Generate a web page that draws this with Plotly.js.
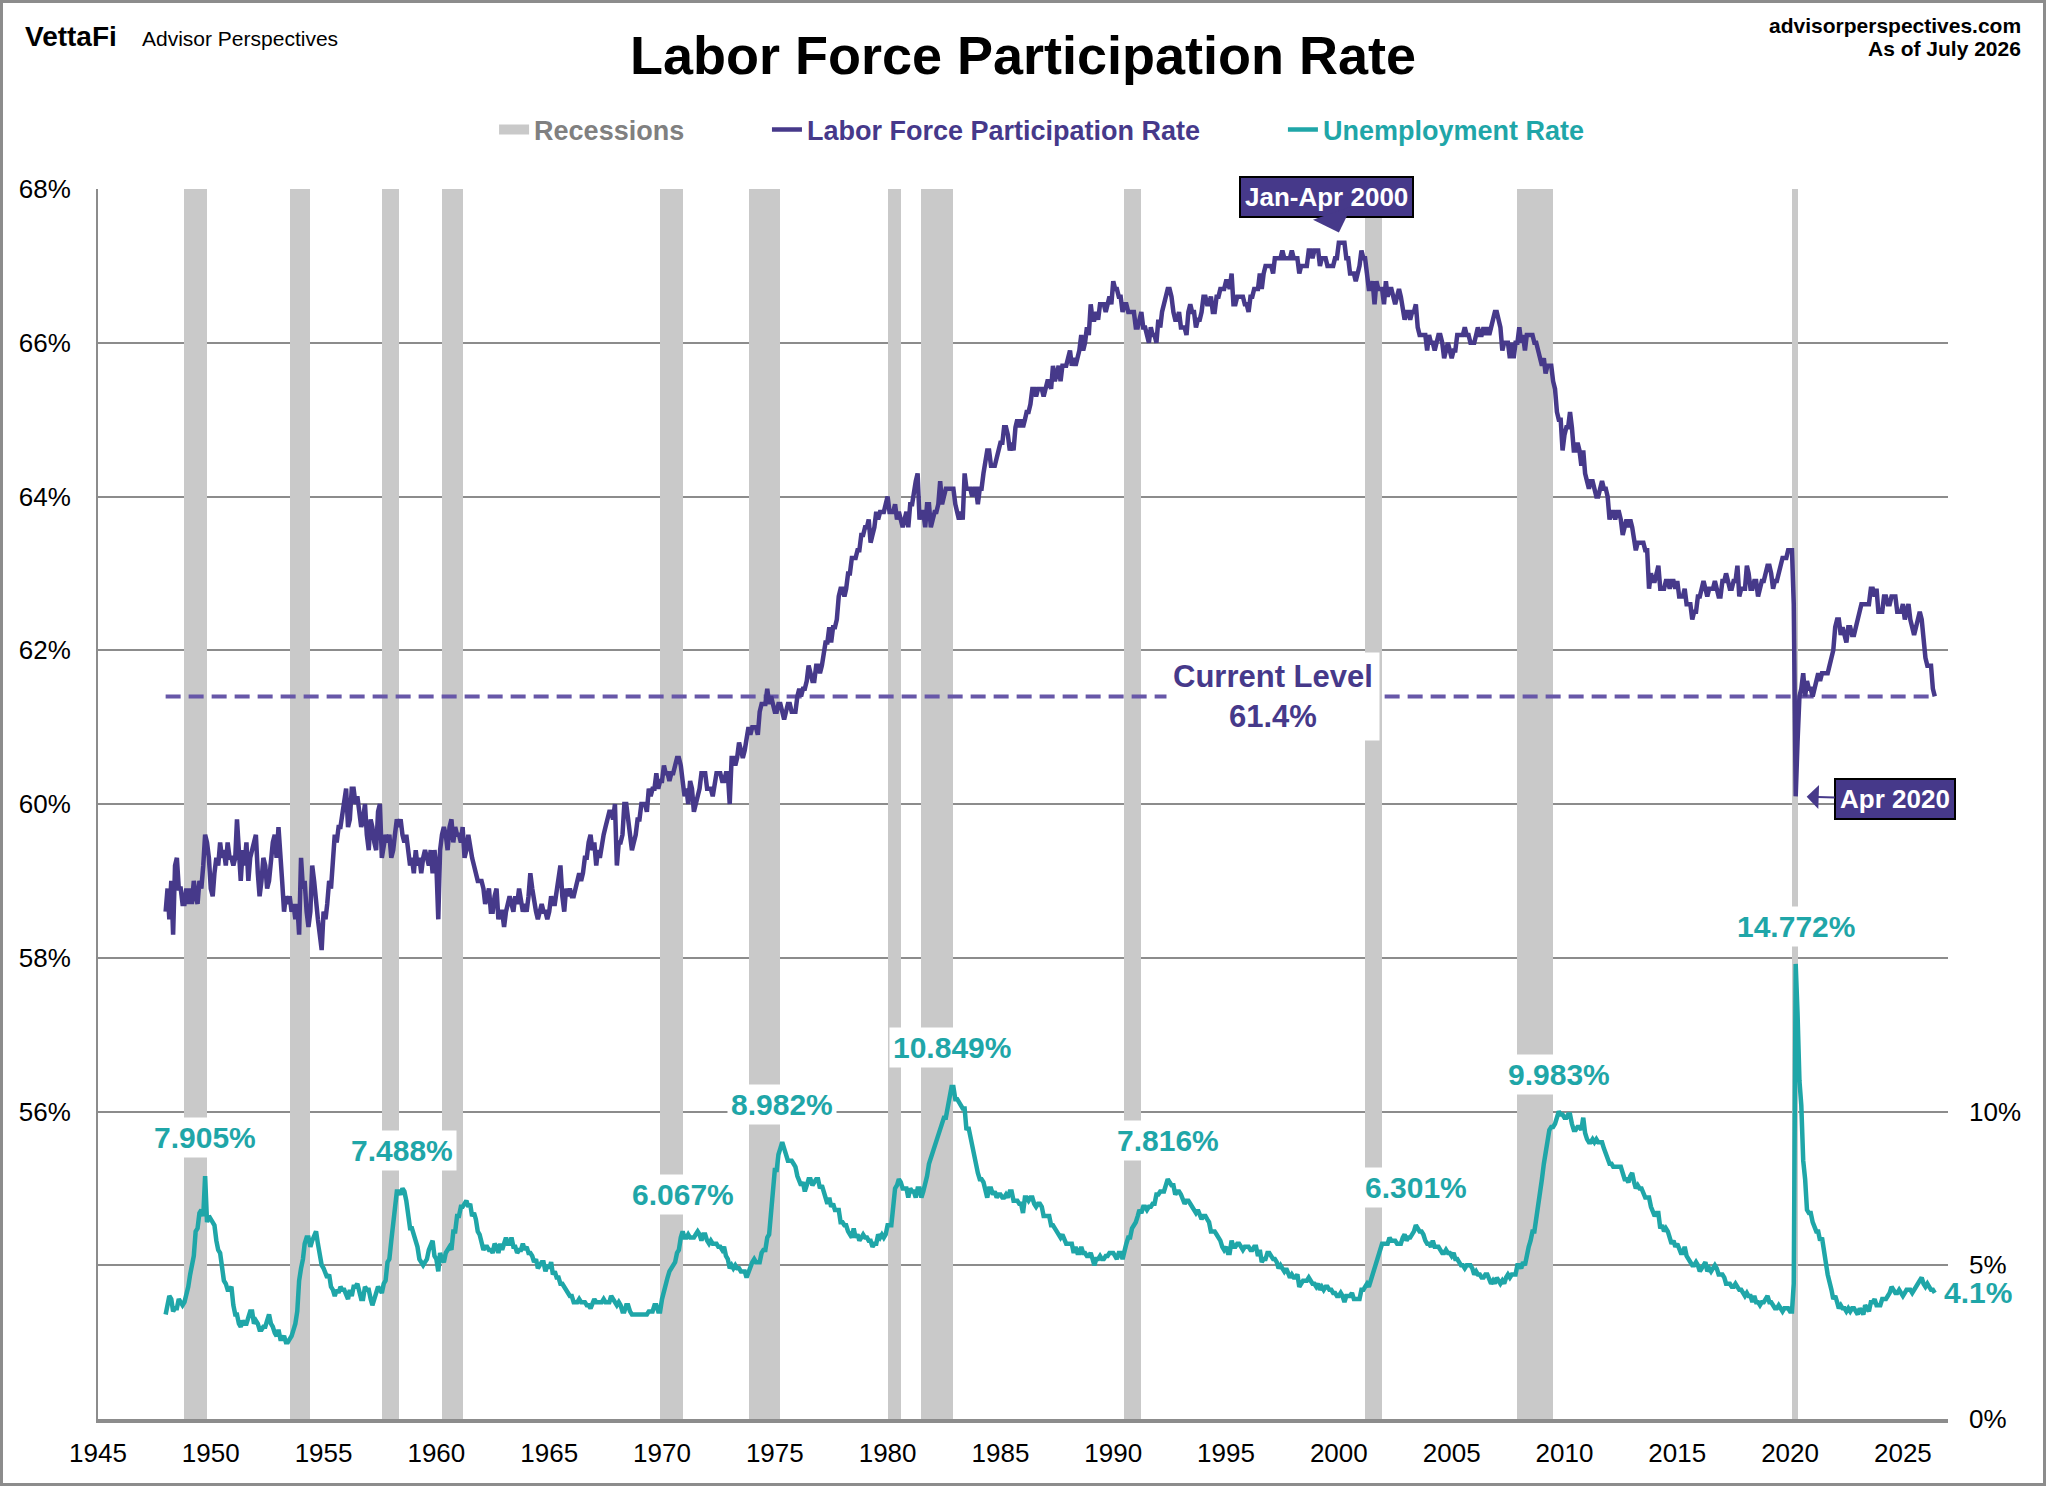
<!DOCTYPE html>
<html>
<head>
<meta charset="utf-8">
<script src="https://cdn.plot.ly/plotly-3.0.1.min.js"></script>
<style>
    body { margin: 0; background: #fff; }
    #grafico { width: 2046px; height: 1486px; box-sizing: border-box; border: 3px solid #8c8c8c; }
</style>
</head>
<body>
<div id="grafico"></div>
<script>
// monthly series, first value is January of startYear
var startYear = 1948;

var lfprValues = [
    58.6, 58.9, 58.5, 59.0, 58.3, 59.2, 59.3, 58.9, 58.9, 58.7, 58.7, 58.9,
    58.7, 58.9, 58.7, 59.0, 58.8, 58.7, 59.0, 58.9, 59.2, 59.6, 59.5, 59.3,
    58.9, 58.8, 59.1, 59.3, 59.2, 59.5, 59.3, 59.4, 59.2, 59.5, 59.3, 59.3,
    59.2, 59.3, 59.8, 59.3, 59.0, 59.4, 59.2, 59.5, 59.0, 59.3, 59.4, 59.5,
    59.6, 59.1, 58.8, 59.0, 59.3, 59.2, 58.9, 59.0, 59.3, 59.5, 59.6, 59.3,
    59.7, 59.4, 59.0, 58.6, 58.8, 58.7, 58.8, 58.6, 58.7, 58.5, 58.7, 58.3,
    59.3, 58.9, 59.0, 58.6, 58.4, 58.6, 59.2, 59.0, 58.7, 58.5, 58.3, 58.1,
    58.6, 58.5, 58.7, 59.0, 58.9, 59.2, 59.6, 59.5, 59.7, 59.7, 59.9, 60.1,
    60.2, 59.7, 59.8, 60.2, 60.2, 60.0, 60.1, 59.9, 59.7, 59.8, 60.0, 59.6,
    59.4, 59.8, 59.7, 59.5, 59.4, 59.9, 60.0, 59.3, 59.5, 59.6, 59.5, 59.6,
    59.3, 59.4, 59.6, 59.8, 59.7, 59.8, 59.6, 59.5, 59.6, 59.4, 59.2, 59.3,
    59.1, 59.4, 59.2, 59.3, 59.1, 59.3, 59.4, 59.3, 59.2, 59.4, 59.1, 59.4,
    59.2, 58.5, 59.4, 59.6, 59.7, 59.6, 59.4, 59.7, 59.8, 59.5, 59.7, 59.6,
    59.6, 59.5, 59.7, 59.3, 59.4, 59.6, 59.4, 59.3, 59.2, 59.1, 59.0, 59.0,
    59.0, 58.9, 58.7, 58.8, 58.9, 58.6, 58.6, 58.8, 58.9, 58.5, 58.6, 58.6,
    58.4, 58.6, 58.7, 58.8, 58.7, 58.6, 58.8, 58.7, 58.9, 58.7, 58.6, 58.7,
    58.6, 58.8, 59.1, 58.9, 58.7, 58.6, 58.5, 58.6, 58.7, 58.6, 58.6, 58.5,
    58.6, 58.8, 58.7, 58.7, 58.9, 59.0, 59.2, 58.8, 58.6, 58.9, 58.8, 58.9,
    58.8, 58.8, 58.9, 59.0, 59.1, 59.0, 59.1, 59.3, 59.3, 59.5, 59.6, 59.4,
    59.5, 59.2, 59.4, 59.3, 59.5, 59.6, 59.7, 59.8, 59.9, 59.9, 59.8, 60.0,
    59.2, 59.5, 59.5, 59.6, 60.0, 60.0, 59.8, 59.6, 59.4, 59.5, 59.6, 59.8,
    59.8, 60.0, 60.0, 60.0, 59.9, 60.2, 60.1, 60.2, 60.2, 60.4, 60.2, 60.3,
    60.3, 60.5, 60.4, 60.4, 60.3, 60.4, 60.4, 60.5, 60.6, 60.6, 60.5, 60.3,
    60.1, 60.2, 60.0, 60.3, 60.2, 59.9, 60.0, 60.1, 60.2, 60.4, 60.4, 60.4,
    60.2, 60.2, 60.2, 60.1, 60.3, 60.4, 60.4, 60.4, 60.3, 60.3, 60.4, 60.4,
    60.0, 60.6, 60.6, 60.5, 60.6, 60.8, 60.7, 60.6, 60.7, 60.9, 61.0, 60.9,
    61.0, 61.0, 61.0, 60.9, 61.2, 61.3, 61.3, 61.3, 61.5, 61.3, 61.4, 61.3,
    61.2, 61.2, 61.3, 61.3, 61.2, 61.1, 61.2, 61.3, 61.3, 61.2, 61.2, 61.2,
    61.4, 61.5, 61.4, 61.5, 61.5, 61.6, 61.8, 61.7, 61.6, 61.6, 61.8, 61.8,
    61.7, 61.8, 62.0, 62.1, 62.1, 62.3, 62.1, 62.3, 62.3, 62.4, 62.7, 62.8,
    62.8, 62.7, 62.8, 63.0, 63.0, 63.2, 63.2, 63.2, 63.3, 63.3, 63.5, 63.5,
    63.6, 63.6, 63.7, 63.4, 63.5, 63.6, 63.8, 63.7, 63.8, 63.8, 63.8, 63.9,
    64.0, 63.8, 63.8, 63.8, 63.9, 63.7, 63.8, 63.7, 63.6, 63.7, 63.8, 63.6,
    63.9, 63.9, 64.1, 64.2, 64.3, 63.7, 63.8, 63.8, 63.6, 63.9, 63.9, 63.6,
    63.7, 63.8, 63.8, 63.9, 64.2, 63.9, 64.0, 64.1, 64.1, 64.1, 64.1, 64.1,
    63.9, 63.8, 63.7, 63.8, 63.7, 64.3, 64.1, 64.1, 64.1, 64.0, 64.1, 64.1,
    63.9, 64.1, 64.1, 64.3, 64.5, 64.6, 64.6, 64.4, 64.4, 64.4, 64.5, 64.6,
    64.7, 64.7, 64.9, 64.9, 64.8, 64.6, 64.7, 64.6, 64.9, 65.0, 64.9, 65.0,
    64.9, 65.0, 65.1, 65.1, 65.2, 65.4, 65.4, 65.3, 65.4, 65.4, 65.4, 65.3,
    65.4, 65.5, 65.5, 65.4, 65.7, 65.5, 65.6, 65.7, 65.5, 65.7, 65.7, 65.7,
    65.8, 65.9, 65.7, 65.8, 65.7, 65.8, 65.9, 66.1, 65.9, 66.0, 66.2, 66.1,
    66.5, 66.3, 66.3, 66.4, 66.3, 66.5, 66.5, 66.5, 66.4, 66.5, 66.6, 66.5,
    66.8, 66.7, 66.7, 66.6, 66.6, 66.4, 66.5, 66.5, 66.4, 66.4, 66.4, 66.4,
    66.2, 66.2, 66.3, 66.4, 66.2, 66.2, 66.1, 66.0, 66.2, 66.1, 66.1, 66.0,
    66.3, 66.2, 66.4, 66.5, 66.6, 66.7, 66.7, 66.6, 66.4, 66.3, 66.3, 66.4,
    66.2, 66.2, 66.2, 66.1, 66.4, 66.5, 66.4, 66.4, 66.2, 66.3, 66.3, 66.4,
    66.6, 66.6, 66.5, 66.5, 66.6, 66.4, 66.4, 66.6, 66.6, 66.7, 66.7, 66.7,
    66.8, 66.8, 66.7, 66.9, 66.5, 66.5, 66.6, 66.6, 66.6, 66.6, 66.5, 66.5,
    66.4, 66.6, 66.6, 66.7, 66.7, 66.7, 66.9, 66.7, 66.9, 67.0, 67.0, 67.0,
    67.0, 66.9, 67.1, 67.1, 67.1, 67.1, 67.2, 67.1, 67.1, 67.1, 67.1, 67.2,
    67.1, 67.1, 67.1, 66.9, 67.0, 67.0, 67.0, 67.0, 67.2, 67.2, 67.1, 67.2,
    67.2, 67.2, 67.0, 67.1, 67.1, 67.1, 67.0, 67.0, 67.0, 67.0, 67.1, 67.1,
    67.3, 67.3, 67.3, 67.3, 67.1, 67.1, 66.9, 66.9, 66.9, 66.8, 66.9, 67.0,
    67.2, 67.1, 67.1, 66.9, 66.7, 66.7, 66.8, 66.5, 66.8, 66.7, 66.7, 66.7,
    66.5, 66.8, 66.6, 66.7, 66.7, 66.6, 66.5, 66.6, 66.7, 66.6, 66.4, 66.3,
    66.4, 66.4, 66.3, 66.4, 66.4, 66.5, 66.2, 66.1, 66.1, 66.1, 66.1, 65.9,
    66.1, 66.0, 66.0, 65.9, 66.0, 66.1, 66.1, 66.0, 65.8, 65.9, 66.0, 65.9,
    65.8, 65.9, 65.9, 66.1, 66.1, 66.1, 66.1, 66.2, 66.1, 66.1, 66.0, 66.0,
    66.0, 66.1, 66.2, 66.1, 66.1, 66.2, 66.1, 66.2, 66.1, 66.2, 66.3, 66.4,
    66.4, 66.3, 66.2, 65.9, 66.0, 66.0, 66.0, 65.8, 66.0, 65.8, 66.0, 66.0,
    66.2, 66.0, 66.1, 65.9, 66.1, 66.1, 66.1, 66.1, 66.0, 66.0, 65.9, 65.8,
    65.7, 65.8, 65.6, 65.7, 65.7, 65.7, 65.5, 65.4, 65.1, 65.0, 65.0, 64.6,
    64.8, 64.9, 64.9, 65.1, 64.9, 64.6, 64.6, 64.7, 64.6, 64.4, 64.6, 64.3,
    64.2, 64.1, 64.2, 64.2, 64.1, 64.0, 64.0, 64.1, 64.2, 64.1, 64.1, 64.0,
    63.7, 63.8, 63.8, 63.7, 63.8, 63.8, 63.7, 63.5, 63.6, 63.7, 63.6, 63.7,
    63.6, 63.4, 63.3, 63.4, 63.4, 63.4, 63.4, 63.3, 63.3, 62.8, 63.0, 62.9,
    62.9, 63.0, 63.1, 62.8, 62.8, 62.8, 62.9, 62.9, 62.8, 62.9, 62.9, 62.8,
    62.9, 62.7, 62.7, 62.7, 62.8, 62.6, 62.6, 62.6, 62.4, 62.5, 62.5, 62.7,
    62.7, 62.8, 62.9, 62.8, 62.7, 62.8, 62.8, 62.8, 62.9, 62.8, 62.7, 62.7,
    62.9, 62.9, 63.0, 62.9, 62.8, 62.8, 62.9, 62.9, 63.1, 62.7, 62.8, 62.8,
    62.8, 63.1, 63.0, 62.8, 62.8, 62.9, 62.9, 62.7, 62.8, 62.9, 62.9, 63.0,
    63.1, 63.1, 63.0, 62.8, 62.9, 62.9, 63.0, 63.1, 63.2, 63.2, 63.2, 63.3,
    63.3, 63.3, 62.6, 60.1, 60.8, 61.4, 61.5, 61.7, 61.4, 61.6, 61.5, 61.5,
    61.4, 61.5, 61.6, 61.7, 61.6, 61.7, 61.7, 61.7, 61.7, 61.8, 61.9, 62.0,
    62.3, 62.4, 62.4, 62.2, 62.3, 62.2, 62.1, 62.3, 62.3, 62.2, 62.2, 62.3,
    62.4, 62.5, 62.6, 62.6, 62.6, 62.6, 62.6, 62.8, 62.8, 62.7, 62.8, 62.5,
    62.5, 62.5, 62.7, 62.7, 62.6, 62.6, 62.7, 62.7, 62.7, 62.5, 62.5, 62.5,
    62.6, 62.4, 62.5, 62.6, 62.4, 62.3, 62.2, 62.3, 62.4, 62.5, 62.4, 62.1,
    61.9, 61.8, 61.8, 61.8, 61.5, 61.4
];

var unrateValues = [
    3.4, 3.8, 4.0, 3.9, 3.5, 3.6, 3.6, 3.9, 3.8, 3.7, 3.8, 4.0,
    4.3, 4.7, 5.0, 5.3, 6.1, 6.2, 6.7, 6.8, 6.6, 7.9, 6.4, 6.6,
    6.5, 6.4, 6.3, 5.8, 5.5, 5.4, 5.0, 4.5, 4.4, 4.2, 4.2, 4.3,
    3.7, 3.4, 3.4, 3.1, 3.0, 3.2, 3.1, 3.1, 3.3, 3.5, 3.5, 3.1,
    3.2, 3.1, 2.9, 2.9, 3.0, 3.0, 3.2, 3.4, 3.1, 3.0, 2.8, 2.7,
    2.9, 2.6, 2.6, 2.7, 2.5, 2.5, 2.6, 2.7, 2.9, 3.1, 3.5, 4.5,
    4.9, 5.2, 5.7, 5.9, 5.9, 5.6, 5.8, 6.0, 6.1, 5.7, 5.3, 5.0,
    4.9, 4.7, 4.6, 4.7, 4.3, 4.2, 4.0, 4.2, 4.1, 4.3, 4.2, 4.2,
    4.0, 3.9, 4.2, 4.0, 4.3, 4.3, 4.4, 4.1, 3.9, 3.9, 4.3, 4.2,
    4.2, 3.9, 3.7, 3.9, 4.1, 4.3, 4.2, 4.1, 4.4, 4.5, 5.1, 5.2,
    5.8, 6.4, 6.7, 7.4, 7.4, 7.3, 7.5, 7.4, 7.1, 6.7, 6.2, 6.2,
    6.0, 5.9, 5.6, 5.2, 5.1, 5.0, 5.1, 5.2, 5.5, 5.7, 5.8, 5.3,
    5.2, 4.8, 5.4, 5.2, 5.1, 5.4, 5.5, 5.6, 5.5, 6.1, 6.1, 6.6,
    6.6, 6.9, 6.9, 7.0, 7.1, 6.9, 7.0, 6.6, 6.7, 6.5, 6.1, 6.0,
    5.8, 5.5, 5.6, 5.6, 5.5, 5.5, 5.4, 5.7, 5.6, 5.4, 5.7, 5.5,
    5.7, 5.9, 5.7, 5.7, 5.9, 5.6, 5.6, 5.4, 5.5, 5.5, 5.7, 5.5,
    5.6, 5.4, 5.4, 5.3, 5.1, 5.2, 4.9, 5.0, 5.1, 5.1, 4.8, 5.0,
    4.9, 5.1, 4.7, 4.8, 4.6, 4.6, 4.4, 4.4, 4.3, 4.2, 4.1, 4.0,
    4.0, 3.8, 3.8, 3.8, 3.9, 3.8, 3.8, 3.8, 3.7, 3.7, 3.6, 3.8,
    3.9, 3.8, 3.8, 3.8, 3.8, 3.9, 3.8, 3.8, 3.8, 4.0, 3.9, 3.8,
    3.7, 3.8, 3.7, 3.5, 3.5, 3.7, 3.7, 3.5, 3.4, 3.4, 3.4, 3.4,
    3.4, 3.4, 3.4, 3.4, 3.4, 3.5, 3.5, 3.5, 3.7, 3.7, 3.5, 3.5,
    3.9, 4.2, 4.4, 4.6, 4.8, 4.9, 5.0, 5.1, 5.4, 5.5, 5.9, 6.1,
    5.9, 5.9, 6.0, 5.9, 5.9, 5.9, 6.0, 6.1, 6.0, 5.8, 6.0, 6.0,
    5.8, 5.7, 5.8, 5.7, 5.7, 5.7, 5.6, 5.6, 5.5, 5.6, 5.3, 5.2,
    4.9, 5.0, 4.9, 5.0, 4.9, 4.9, 4.8, 4.8, 4.8, 4.6, 4.8, 4.9,
    5.1, 5.2, 5.1, 5.1, 5.1, 5.4, 5.5, 5.5, 5.9, 6.0, 6.6, 7.2,
    8.1, 8.1, 8.6, 8.8, 9.0, 8.8, 8.6, 8.4, 8.4, 8.4, 8.3, 8.2,
    7.9, 7.7, 7.6, 7.7, 7.4, 7.6, 7.8, 7.8, 7.6, 7.7, 7.8, 7.8,
    7.5, 7.6, 7.4, 7.2, 7.0, 7.2, 6.9, 7.0, 6.8, 6.8, 6.8, 6.4,
    6.4, 6.3, 6.3, 6.1, 6.0, 5.9, 6.2, 5.9, 6.0, 5.8, 5.9, 6.0,
    5.9, 5.9, 5.8, 5.8, 5.6, 5.7, 5.7, 6.0, 5.9, 6.0, 5.9, 6.0,
    6.3, 6.3, 6.3, 6.9, 7.5, 7.6, 7.8, 7.7, 7.5, 7.5, 7.5, 7.2,
    7.5, 7.4, 7.4, 7.2, 7.5, 7.5, 7.2, 7.4, 7.6, 7.9, 8.3, 8.5,
    8.6, 8.9, 9.0, 9.3, 9.4, 9.6, 9.8, 9.8, 10.1, 10.4, 10.8, 10.8,
    10.4, 10.4, 10.3, 10.2, 10.1, 10.1, 9.4, 9.5, 9.2, 8.8, 8.5, 8.3,
    8.0, 7.8, 7.8, 7.7, 7.4, 7.2, 7.5, 7.5, 7.3, 7.4, 7.2, 7.3,
    7.3, 7.2, 7.2, 7.3, 7.2, 7.4, 7.4, 7.1, 7.1, 7.1, 7.0, 7.0,
    6.7, 7.2, 7.2, 7.1, 7.2, 7.2, 7.0, 6.9, 7.0, 7.0, 6.9, 6.6,
    6.6, 6.6, 6.6, 6.3, 6.3, 6.2, 6.1, 6.0, 5.9, 6.0, 5.8, 5.7,
    5.7, 5.7, 5.7, 5.4, 5.6, 5.4, 5.4, 5.6, 5.4, 5.4, 5.3, 5.3,
    5.4, 5.2, 5.0, 5.2, 5.2, 5.3, 5.2, 5.2, 5.3, 5.3, 5.4, 5.4,
    5.4, 5.3, 5.2, 5.4, 5.4, 5.2, 5.5, 5.7, 5.9, 5.9, 6.2, 6.3,
    6.4, 6.6, 6.8, 6.7, 6.9, 6.9, 6.8, 6.9, 6.9, 7.0, 7.0, 7.3,
    7.3, 7.4, 7.4, 7.4, 7.6, 7.8, 7.7, 7.6, 7.6, 7.3, 7.4, 7.4,
    7.3, 7.1, 7.0, 7.1, 7.1, 7.0, 6.9, 6.8, 6.7, 6.8, 6.6, 6.5,
    6.6, 6.6, 6.5, 6.4, 6.1, 6.1, 6.1, 6.0, 5.9, 5.8, 5.6, 5.5,
    5.6, 5.4, 5.4, 5.8, 5.6, 5.6, 5.7, 5.7, 5.6, 5.5, 5.6, 5.6,
    5.6, 5.5, 5.5, 5.6, 5.6, 5.3, 5.5, 5.1, 5.2, 5.2, 5.4, 5.4,
    5.3, 5.2, 5.2, 5.1, 4.9, 5.0, 4.9, 4.8, 4.9, 4.7, 4.6, 4.7,
    4.6, 4.6, 4.7, 4.3, 4.4, 4.5, 4.5, 4.5, 4.6, 4.5, 4.4, 4.4,
    4.3, 4.4, 4.2, 4.3, 4.2, 4.3, 4.3, 4.2, 4.2, 4.1, 4.1, 4.0,
    4.0, 4.1, 4.0, 3.8, 4.0, 4.0, 4.0, 4.1, 3.9, 3.9, 3.9, 3.9,
    4.2, 4.2, 4.3, 4.4, 4.3, 4.5, 4.6, 4.9, 5.0, 5.3, 5.5, 5.7,
    5.7, 5.7, 5.7, 5.9, 5.8, 5.8, 5.8, 5.7, 5.7, 5.7, 5.9, 6.0,
    5.8, 5.9, 5.9, 6.0, 6.1, 6.3, 6.2, 6.1, 6.1, 6.0, 5.8, 5.7,
    5.7, 5.6, 5.8, 5.6, 5.6, 5.6, 5.5, 5.4, 5.4, 5.5, 5.4, 5.4,
    5.3, 5.4, 5.2, 5.2, 5.1, 5.0, 5.0, 4.9, 5.0, 5.0, 5.0, 4.9,
    4.7, 4.8, 4.7, 4.7, 4.6, 4.6, 4.7, 4.7, 4.5, 4.4, 4.5, 4.4,
    4.6, 4.5, 4.4, 4.5, 4.4, 4.6, 4.7, 4.6, 4.7, 4.7, 4.7, 5.0,
    5.0, 4.9, 5.1, 5.0, 5.4, 5.6, 5.8, 6.1, 6.1, 6.5, 6.8, 7.3,
    7.8, 8.3, 8.7, 9.0, 9.4, 9.5, 9.5, 9.6, 9.8, 10.0, 9.9, 9.9,
    9.8, 9.8, 9.9, 9.9, 9.6, 9.4, 9.4, 9.5, 9.5, 9.4, 9.8, 9.3,
    9.1, 9.0, 9.0, 9.1, 9.0, 9.1, 9.0, 9.0, 9.0, 8.8, 8.6, 8.5,
    8.3, 8.3, 8.2, 8.2, 8.2, 8.2, 8.2, 8.0, 7.8, 7.8, 7.7, 7.9,
    8.0, 7.7, 7.5, 7.6, 7.5, 7.5, 7.3, 7.2, 7.2, 7.2, 6.9, 6.7,
    6.6, 6.7, 6.7, 6.2, 6.3, 6.1, 6.2, 6.1, 5.9, 5.7, 5.8, 5.6,
    5.7, 5.5, 5.4, 5.4, 5.6, 5.3, 5.2, 5.1, 5.0, 5.0, 5.1, 5.0,
    4.8, 4.9, 5.0, 5.1, 4.8, 4.9, 4.8, 4.9, 5.0, 4.9, 4.7, 4.7,
    4.7, 4.6, 4.4, 4.4, 4.4, 4.3, 4.3, 4.4, 4.3, 4.2, 4.2, 4.1,
    4.0, 4.1, 4.0, 4.0, 3.8, 4.0, 3.8, 3.8, 3.7, 3.8, 3.8, 3.9,
    4.0, 3.8, 3.8, 3.7, 3.6, 3.6, 3.7, 3.6, 3.5, 3.6, 3.6, 3.6,
    3.5, 3.5, 4.4, 14.8, 13.2, 11.0, 10.2, 8.4, 7.8, 6.8, 6.7, 6.7,
    6.4, 6.2, 6.1, 6.1, 5.8, 5.9, 5.4, 5.1, 4.7, 4.5, 4.2, 3.9,
    4.0, 3.8, 3.6, 3.7, 3.6, 3.6, 3.5, 3.6, 3.5, 3.6, 3.6, 3.5,
    3.4, 3.6, 3.5, 3.4, 3.7, 3.6, 3.5, 3.8, 3.8, 3.9, 3.7, 3.7,
    3.7, 3.9, 3.9, 3.9, 4.0, 4.1, 4.3, 4.2, 4.1, 4.1, 4.2, 4.1,
    4.0, 4.1, 4.2, 4.2, 4.2, 4.1, 4.2, 4.3, 4.4, 4.5, 4.6, 4.4,
    4.3, 4.4, 4.3, 4.2, 4.2, 4.1
];

// NBER recessions: first month of the downturn, first month after the trough
var recessionStarts = ['1948-11-01', '1953-07-01', '1957-08-01', '1960-04-01', '1969-12-01', '1973-11-01',
    '1980-01-01', '1981-07-01', '1990-07-01', '2001-03-01', '2007-12-01', '2020-02-01'];
var recessionEnds = ['1949-11-01', '1954-06-01', '1958-05-01', '1961-03-01', '1970-12-01', '1975-04-01',
    '1980-08-01', '1982-12-01', '1991-04-01', '2001-12-01', '2009-07-01', '2020-05-01'];

// unemployment peaks labelled on the chart
var peakDates = ['1949-10-01', '1958-07-01', '1970-12-01', '1975-05-01', '1982-11-01',
    '1992-06-01', '2003-06-01', '2009-10-01', '2020-04-01'];
var peakValues = [7.905, 7.488, 6.067, 8.982, 10.849, 7.816, 6.301, 9.983, 14.772];

var calloutDates = ['2000-03-01', '2020-04-01'];
var calloutTexts = ['Jan-Apr 2000', 'Apr 2020'];

var leftTicks = [56, 58, 60, 62, 64, 66, 68];
var rightTicks = [0, 5, 10];
var leftRange = [52, 68];
var rightRange = [0, 40];

var purple = '#46398a';
var teal = '#1fa6a8';
var grey = '#8c8c8c';
var barGrey = '#c9c9c9';
var fuente = 'Arial, "Liberation Sans", Helvetica, sans-serif';

function monthlyDates(n) {
    var fechas = [];
    for (var i = 0; i < n; i++) {
        var anio = startYear + Math.floor(i / 12);
        var mes = (i % 12) + 1;
        fechas.push(anio + '-' + (mes < 10 ? '0' + mes : mes) + '-01');
    }
    return fechas;
}

var lfprDates = monthlyDates(lfprValues.length);
var unrateDates = monthlyDates(unrateValues.length);
var currentLevel = lfprValues[lfprValues.length - 1];
var currentUnrate = unrateValues[unrateValues.length - 1];

function valueAt(fechas, valores, fecha) {
    return valores[fechas.indexOf(fecha)];
}

var barMid = [];
var barWidth = [];
var barHeight = [];
for (var i = 0; i < recessionStarts.length; i++) {
    var a = Date.parse(recessionStarts[i]);
    var b = Date.parse(recessionEnds[i]);
    barMid.push((a + b) / 2);
    barWidth.push(b - a);
    barHeight.push(leftRange[1] - leftRange[0]);
}

var recesiones = {
    type: 'bar',
    x: barMid,
    y: barHeight,
    base: leftRange[0],
    width: barWidth,
    marker: { color: barGrey, line: { width: 0 } },
    showlegend: false,
    hoverinfo: 'skip'
};

// legend swatch for the grey bars (wide block like the original key)
var recesionesLeyenda = {
    type: 'scatter',
    mode: 'lines',
    x: [null],
    y: [null],
    line: { color: barGrey, width: 13 },
    name: '<b><span style="color:#808080">Recessions</span></b>',
    legend: 'legend'
};

var nivelActual = {
    type: 'scatter',
    mode: 'lines',
    x: [lfprDates[0], lfprDates[lfprDates.length - 1]],
    y: [currentLevel, currentLevel],
    line: { color: '#6757a8', width: 4, dash: '15px,8px' },
    showlegend: false,
    hoverinfo: 'skip'
};

var lfpr = {
    type: 'scatter',
    mode: 'lines',
    x: lfprDates,
    y: lfprValues,
    line: { color: purple, width: 4.5 },
    name: '<b><span style="color:' + purple + '">Labor Force Participation Rate</span></b>',
    legend: 'legend2'
};

var unrate = {
    type: 'scatter',
    mode: 'lines',
    x: unrateDates,
    y: unrateValues,
    yaxis: 'y2',
    line: { color: teal, width: 4.5 },
    name: '<b><span style="color:' + teal + '">Unemployment Rate</span></b>',
    legend: 'legend3'
};

var notas = [];

for (var j = 0; j < peakDates.length; j++) {
    notas.push({
        x: peakDates[j], y: peakValues[j], xref: 'x', yref: 'y2',
        text: '<b>' + peakValues[j].toFixed(3) + '%</b>',
        showarrow: false, yshift: 38, yanchor: 'middle',
        bgcolor: '#fff', borderpad: 3,
        font: { size: 30, color: teal }
    });
}

notas.push({
    x: '1997-02-01', y: currentLevel, xref: 'x', yref: 'y',
    text: '<b>Current Level<br>' + currentLevel.toFixed(1) + '%</b>',
    showarrow: false, bgcolor: '#fff', borderpad: 6,
    font: { size: 31, color: purple }
});

// callout boxes with a wedge pointing at the line
var offsets = [[-16, -46], [99, 3]];
var headSizes = [3.4, 2];
for (var k = 0; k < calloutDates.length; k++) {
    notas.push({
        x: calloutDates[k], y: valueAt(lfprDates, lfprValues, calloutDates[k]), xref: 'x', yref: 'y',
        text: '<b>' + calloutTexts[k] + '</b>',
        showarrow: true, arrowhead: 1, arrowsize: headSizes[k], arrowwidth: 2, arrowcolor: purple,
        ax: offsets[k][0], ay: offsets[k][1], standoff: 11,
        bgcolor: purple, bordercolor: '#000', borderwidth: 2, borderpad: 4,
        font: { size: 26, color: '#fff' }
    });
}

notas.push({
    x: unrateDates[unrateDates.length - 1], y: currentUnrate, xref: 'x', yref: 'y2',
    text: '<b>' + currentUnrate.toFixed(1) + '%</b>',
    showarrow: false, xanchor: 'left', xshift: 6, bgcolor: '#fff', borderpad: 2,
    font: { size: 30, color: teal }
});

// header texts
notas.push({ x: -0.0405, y: 1.1236, xref: 'paper', yref: 'paper', xanchor: 'left', yanchor: 'middle',
    text: '<b>VettaFi</b>', showarrow: false, font: { size: 28, color: '#000' } });
notas.push({ x: 0.0227, y: 1.122, xref: 'paper', yref: 'paper', xanchor: 'left', yanchor: 'middle',
    text: 'Advisor Perspectives', showarrow: false, font: { size: 21, color: '#000' } });
notas.push({ x: 1.0405, y: 1.1333, xref: 'paper', yref: 'paper', xanchor: 'right', yanchor: 'middle',
    text: '<b>advisorperspectives.com</b>', showarrow: false, font: { size: 21, color: '#000' } });
notas.push({ x: 1.0405, y: 1.1146, xref: 'paper', yref: 'paper', xanchor: 'right', yanchor: 'middle',
    text: '<b>As of July 2026</b>', showarrow: false, font: { size: 21, color: '#000' } });

function legendAt(x) {
    return {
        orientation: 'h', x: x, xanchor: 'left', y: 1.048, yanchor: 'middle',
        font: { size: 27 }, bgcolor: 'rgba(0,0,0,0)'
    };
}

var layout = {
    width: 2040,
    height: 1480,
    margin: { l: 95, r: 95, t: 186, b: 64 },
    paper_bgcolor: '#fff',
    plot_bgcolor: '#fff',
    font: { family: fuente, color: '#000' },
    title: {
        text: '<b>Labor Force Participation Rate</b>',
        font: { size: 54, color: '#000' },
        x: 0.5, xanchor: 'center', xref: 'container',
        y: 0.965, yanchor: 'middle', yref: 'container'
    },
    showlegend: true,
    legend: legendAt(0.2141),
    legend2: legendAt(0.3616),
    legend3: legendAt(0.6405),
    xaxis: {
        type: 'date',
        range: ['1945-01-01', '2027-01-01'],
        tick0: '1945-01-01', dtick: 'M60', tickformat: '%Y',
        showgrid: false, zeroline: false,
        showline: true, linecolor: grey, linewidth: 4,
        ticks: '', ticklabelstandoff: 8,
        tickfont: { size: 26, color: '#000' }
    },
    yaxis: {
        range: leftRange,
        tickvals: leftTicks,
        ticktext: leftTicks.map(function (v) { return v + '%'; }),
        showgrid: true, gridcolor: grey, gridwidth: 2,
        zeroline: false, showline: true, linecolor: grey, linewidth: 2,
        ticks: '', ticklabelstandoff: 20,
        tickfont: { size: 26, color: '#000' }
    },
    yaxis2: {
        overlaying: 'y', side: 'right',
        range: rightRange,
        tickvals: rightTicks,
        ticktext: rightTicks.map(function (v) { return v + '%'; }),
        showgrid: true, gridcolor: grey, gridwidth: 2,
        zeroline: false, showline: false,
        ticks: '', ticklabelstandoff: 20,
        tickfont: { size: 26, color: '#000' }
    },
    bargap: 0,
    hovermode: false,
    annotations: notas
};

Plotly.newPlot('grafico', [recesiones, recesionesLeyenda, nivelActual, lfpr, unrate], layout,
    { displayModeBar: false, staticPlot: true });
</script>
</body>
</html>
